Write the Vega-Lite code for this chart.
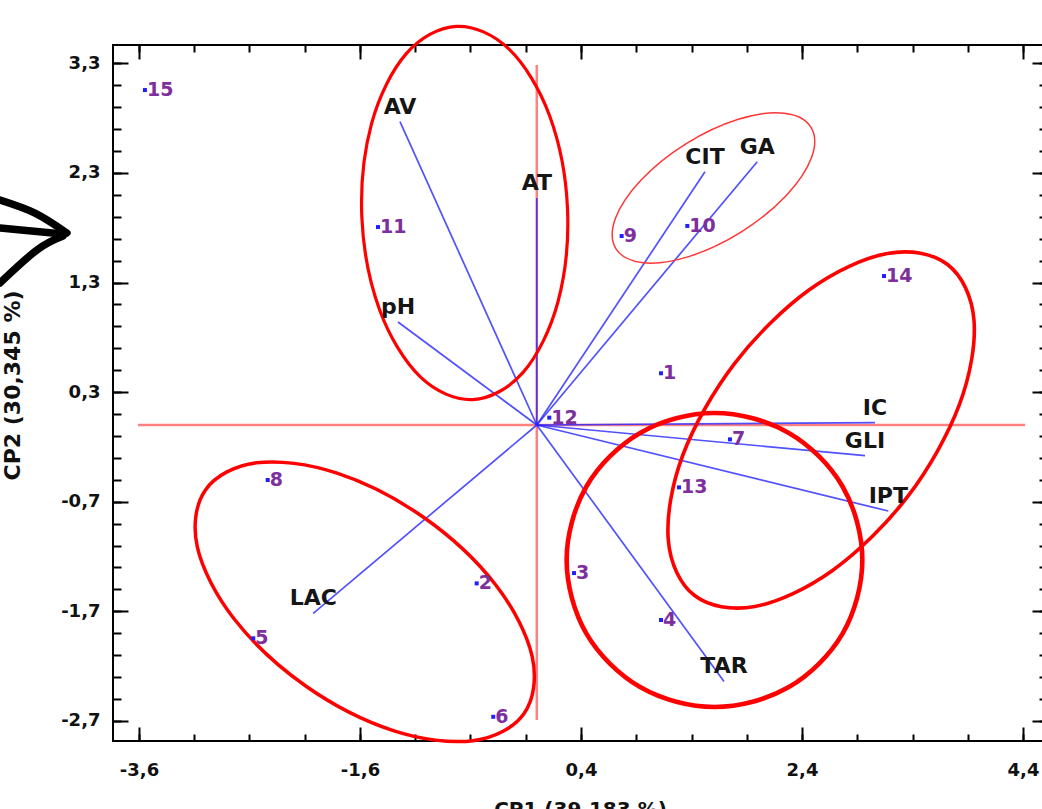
{
  "$schema": "https://vega.github.io/schema/vega-lite/v6.json",
  "width": 934,
  "height": 696,
  "autosize": {"type": "none"},
  "padding": {"left": 113, "top": 45, "right": 0, "bottom": 68},
  "background": "white",
  "config": {
    "view": {"stroke": "black", "strokeWidth": 2},
    "axis": {"grid": false, "labelFlush": false, "labelOverlap": false, "tickColor": "black", "tickWidth": 2, "title": null}
  },
  "datasets": {
    "pts": [
      {"id": "1", "x": 1.124, "y": 0.472},
      {"id": "2", "x": -0.544, "y": -1.445},
      {"id": "3", "x": 0.337, "y": -1.351},
      {"id": "4", "x": 1.124, "y": -1.779},
      {"id": "5", "x": -2.566, "y": -1.946},
      {"id": "6", "x": -0.394, "y": -2.662},
      {"id": "7", "x": 1.748, "y": -0.131},
      {"id": "8", "x": -2.435, "y": -0.502},
      {"id": "9", "x": 0.768, "y": 1.724},
      {"id": "10", "x": 1.362, "y": 1.816},
      {"id": "11", "x": -1.437, "y": 1.806},
      {"id": "12", "x": 0.113, "y": 0.067},
      {"id": "13", "x": 1.287, "y": -0.569},
      {"id": "14", "x": 3.142, "y": 1.359},
      {"id": "15", "x": -3.546, "y": 3.056}
    ],
    "vec": [
      {"v": "AV", "x0": 0, "y0": 0, "x": -1.238, "y": 2.767},
      {"v": "AT", "x0": 0, "y0": 0, "x": 0.0, "y": 2.071},
      {"v": "pH", "x0": 0, "y0": 0, "x": -1.256, "y": 0.94},
      {"v": "CIT", "x0": 0, "y0": 0, "x": 1.522, "y": 2.311},
      {"v": "GA", "x0": 0, "y0": 0, "x": 1.995, "y": 2.402},
      {"v": "IC", "x0": 0, "y0": 0, "x": 3.06, "y": 0.021},
      {"v": "GLI", "x0": 0, "y0": 0, "x": 2.97, "y": -0.28},
      {"v": "IPT", "x0": 0, "y0": 0, "x": 3.181, "y": -0.785},
      {"v": "TAR", "x0": 0, "y0": 0, "x": 1.694, "y": -2.34},
      {"v": "LAC", "x0": 0, "y0": 0, "x": -2.023, "y": -1.718}
    ],
    "cross": [
      {"x": -3.61, "xe": 4.42, "y": 0, "ye": 0},
      {"x": 0, "xe": 0, "y": 3.284, "ye": -2.692}
    ],
    "arrow": [
      {"s": "u", "i": 0, "x": -4.858, "y": 2.053},
      {"s": "u", "i": 1, "x": -4.541, "y": 1.934},
      {"s": "u", "i": 2, "x": -4.252, "y": 1.752},
      {"s": "m", "i": 0, "x": -4.858, "y": 1.797},
      {"s": "m", "i": 1, "x": -4.288, "y": 1.743},
      {"s": "l", "i": 0, "x": -4.288, "y": 1.724},
      {"s": "l", "i": 1, "x": -4.523, "y": 1.597},
      {"s": "l", "i": 2, "x": -4.858, "y": 1.296}
    ],
    "ell": [
      {"g": "A", "i": 0, "x": -0.579, "y": 0.232},
      {"g": "A", "i": 1, "x": -1.054, "y": 0.439},
      {"g": "A", "i": 2, "x": -1.421, "y": 1.047},
      {"g": "A", "i": 3, "x": -1.583, "y": 1.893},
      {"g": "A", "i": 4, "x": -1.495, "y": 2.75},
      {"g": "A", "i": 5, "x": -1.181, "y": 3.388},
      {"g": "A", "i": 6, "x": -0.726, "y": 3.637},
      {"g": "A", "i": 7, "x": -0.251, "y": 3.429},
      {"g": "A", "i": 8, "x": 0.116, "y": 2.821},
      {"g": "A", "i": 9, "x": 0.278, "y": 1.975},
      {"g": "A", "i": 10, "x": 0.19, "y": 1.118},
      {"g": "A", "i": 11, "x": -0.124, "y": 0.48},
      {"g": "B", "i": 0, "x": 2.48, "y": 2.718},
      {"g": "B", "i": 1, "x": 2.487, "y": 2.442},
      {"g": "B", "i": 2, "x": 2.256, "y": 2.092},
      {"g": "B", "i": 3, "x": 1.848, "y": 1.76},
      {"g": "B", "i": 4, "x": 1.374, "y": 1.536},
      {"g": "B", "i": 5, "x": 0.961, "y": 1.48},
      {"g": "B", "i": 6, "x": 0.717, "y": 1.607},
      {"g": "B", "i": 7, "x": 0.711, "y": 1.883},
      {"g": "B", "i": 8, "x": 0.942, "y": 2.233},
      {"g": "B", "i": 9, "x": 1.349, "y": 2.565},
      {"g": "B", "i": 10, "x": 1.824, "y": 2.789},
      {"g": "B", "i": 11, "x": 2.237, "y": 2.844},
      {"g": "C", "i": 0, "x": 3.717, "y": 1.464},
      {"g": "C", "i": 1, "x": 3.956, "y": 0.959},
      {"g": "C", "i": 2, "x": 3.824, "y": 0.185},
      {"g": "C", "i": 3, "x": 3.357, "y": -0.652},
      {"g": "C", "i": 4, "x": 2.679, "y": -1.325},
      {"g": "C", "i": 5, "x": 1.974, "y": -1.656},
      {"g": "C", "i": 6, "x": 1.428, "y": -1.556},
      {"g": "C", "i": 7, "x": 1.19, "y": -1.05},
      {"g": "C", "i": 8, "x": 1.321, "y": -0.276},
      {"g": "C", "i": 9, "x": 1.789, "y": 0.56},
      {"g": "C", "i": 10, "x": 2.466, "y": 1.234},
      {"g": "C", "i": 11, "x": 3.172, "y": 1.565},
      {"g": "D", "i": 0, "x": 2.946, "y": -1.232},
      {"g": "D", "i": 1, "x": 2.767, "y": -1.903},
      {"g": "D", "i": 2, "x": 2.277, "y": -2.393},
      {"g": "D", "i": 3, "x": 1.608, "y": -2.573},
      {"g": "D", "i": 4, "x": 0.939, "y": -2.393},
      {"g": "D", "i": 5, "x": 0.449, "y": -1.903},
      {"g": "D", "i": 6, "x": 0.27, "y": -1.232},
      {"g": "D", "i": 7, "x": 0.449, "y": -0.561},
      {"g": "D", "i": 8, "x": 0.939, "y": -0.07},
      {"g": "D", "i": 9, "x": 1.608, "y": 0.109},
      {"g": "D", "i": 10, "x": 2.277, "y": -0.07},
      {"g": "D", "i": 11, "x": 2.767, "y": -0.561},
      {"g": "E", "i": 0, "x": -0.115, "y": -2.632},
      {"g": "E", "i": 1, "x": -0.576, "y": -2.88},
      {"g": "E", "i": 2, "x": -1.299, "y": -2.788},
      {"g": "E", "i": 3, "x": -2.091, "y": -2.381},
      {"g": "E", "i": 4, "x": -2.74, "y": -1.768},
      {"g": "E", "i": 5, "x": -3.072, "y": -1.113},
      {"g": "E", "i": 6, "x": -2.998, "y": -0.592},
      {"g": "E", "i": 7, "x": -2.537, "y": -0.345},
      {"g": "E", "i": 8, "x": -1.814, "y": -0.437},
      {"g": "E", "i": 9, "x": -1.022, "y": -0.844},
      {"g": "E", "i": 10, "x": -0.373, "y": -1.457},
      {"g": "E", "i": 11, "x": -0.042, "y": -2.112}
    ]
  },
  "layer": [
    {
      "data": {"name": "cross"},
      "mark": {"type": "rule", "color": "#ff8080", "strokeWidth": 2.5},
      "encoding": {
        "x": {"field": "x", "type": "quantitative", "scale": {"domain": [-3.835, 4.617], "nice": false, "zero": false},
          "axis": {"orient": "bottom", "values": [-3.6, -1.6, 0.4, 2.4, 4.4], "ticks": false, "domain": false,
            "labelExpr": "replace(replace(format(datum.value, '.1f'), '.', ','), '\u2212', '-')",
            "labelFont": "DejaVu Sans", "labelFontWeight": "bold", "labelFontSize": 18, "labelColor": "#111111", "labelPadding": 20, "labelBaseline": "top",
            "title": "CP1 (39,183 %)", "titleFont": "DejaVu Sans", "titleFontWeight": "bold", "titleFontSize": 20, "titleColor": "#111111",
            "titleX": 467, "titleY": 58, "titleBaseline": "top", "titleAlign": "center"}},
        "x2": {"field": "xe"},
        "y": {"field": "y", "type": "quantitative", "scale": {"domain": [-2.883, 3.467], "nice": false, "zero": false},
          "axis": {"orient": "left", "values": [-2.7, -1.7, -0.7, 0.3, 1.3, 2.3, 3.3], "ticks": false, "domain": false,
            "labelExpr": "replace(replace(format(datum.value, '.1f'), '.', ','), '\u2212', '-')",
            "labelFont": "DejaVu Sans", "labelFontWeight": "bold", "labelFontSize": 18, "labelColor": "#111111", "labelPadding": 13,
            "title": "CP2 (30,345 %)", "titleFont": "DejaVu Sans", "titleFontWeight": "bold", "titleFontSize": 22, "titleColor": "#111111",
            "titleX": -101, "titleY": 340, "titleAngle": 270, "titleAlign": "center", "titleBaseline": "middle"}},
        "y2": {"field": "ye"}
      }
    },
    {
      "data": {"name": "vec"},
      "mark": {"type": "rule", "color": "#2626ff", "strokeWidth": 1.7, "opacity": 0.8},
      "encoding": {
        "x": {"field": "x0", "type": "quantitative", "scale": {"domain": [-3.835, 4.617], "nice": false, "zero": false},
          "axis": {"orient": "bottom", "values": [-3.6, -1.6, 0.4, 2.4, 4.4], "labels": false, "domain": false, "tickSize": -14}},
        "x2": {"field": "x"},
        "y": {"field": "y0", "type": "quantitative", "scale": {"domain": [-2.883, 3.467], "nice": false, "zero": false},
          "axis": {"orient": "left", "values": [-2.7, -1.7, -0.7, 0.3, 1.3, 2.3, 3.3], "labels": false, "domain": false, "tickSize": -15}},
        "y2": {"field": "y"}
      }
    },
    {
      "data": {"name": "ell"},
      "mark": {"type": "line", "interpolate": "cardinal-closed"},
      "encoding": {
        "x": {"field": "x", "type": "quantitative", "scale": {"domain": [-3.835, 4.617], "nice": false, "zero": false},
          "axis": {"orient": "bottom", "values": [-3.6, -3.1, -2.6, -2.1, -1.6, -1.1, -0.6, -0.1, 0.4, 0.9, 1.4, 1.9, 2.4, 2.9, 3.4, 3.9, 4.4], "labels": false, "domain": false, "tickSize": -7}},
        "y": {"field": "y", "type": "quantitative", "scale": {"domain": [-2.883, 3.467], "nice": false, "zero": false},
          "axis": {"orient": "left", "values": [-2.7, -2.5, -2.3, -2.1, -1.9, -1.7, -1.5, -1.3, -1.1, -0.9, -0.7, -0.5, -0.3, -0.1, 0.1, 0.3, 0.5, 0.7, 0.9, 1.1, 1.3, 1.5, 1.7, 1.9, 2.1, 2.3, 2.5, 2.7, 2.9, 3.1, 3.3], "labels": false, "domain": false, "tickSize": -8}},
        "detail": {"field": "g"},
        "order": {"field": "i", "type": "quantitative"},
        "color": {"field": "g", "type": "nominal", "scale": {"domain": ["A", "B", "C", "D", "E"], "range": ["#ff0000", "#ff3636", "#ff0000", "#ff0000", "#ff0000"]}, "legend": null},
        "strokeWidth": {"field": "g", "type": "nominal", "scale": {"type": "ordinal", "domain": ["A", "B", "C", "D", "E"], "range": [3.2, 1.5, 3.6, 4.6, 3.5]}, "legend": null}
      }
    },
    {
      "data": {"name": "arrow"},
      "mark": {"type": "line", "interpolate": "cardinal", "color": "black", "strokeWidth": 7.5, "strokeCap": "round"},
      "encoding": {
        "x": {"field": "x", "type": "quantitative", "scale": {"domain": [-3.835, 4.617], "nice": false, "zero": false}, "axis": null},
        "y": {"field": "y", "type": "quantitative", "scale": {"domain": [-2.883, 3.467], "nice": false, "zero": false}, "axis": null},
        "detail": {"field": "s"},
        "order": {"field": "i", "type": "quantitative"}
      }
    },
    {
      "data": {"name": "vec"},
      "mark": {"type": "text", "font": "DejaVu Sans", "fontWeight": "bold", "fontSize": 22, "color": "#151515", "dy": -15, "align": "center", "baseline": "middle"},
      "encoding": {
        "x": {"field": "x", "type": "quantitative", "scale": {"domain": [-3.835, 4.617], "nice": false, "zero": false}, "axis": null},
        "y": {"field": "y", "type": "quantitative", "scale": {"domain": [-2.883, 3.467], "nice": false, "zero": false}, "axis": null},
        "text": {"field": "v"}
      }
    },
    {
      "data": {"name": "pts"},
      "mark": {"type": "square", "color": "#1f1fff", "size": 16, "opacity": 1},
      "encoding": {
        "x": {"field": "x", "type": "quantitative", "scale": {"domain": [-3.835, 4.617], "nice": false, "zero": false},
          "axis": {"orient": "top", "values": [-3.6, -1.6, 0.4, 2.4, 4.4], "labels": false, "domain": false, "tickSize": -14}},
        "y": {"field": "y", "type": "quantitative", "scale": {"domain": [-2.883, 3.467], "nice": false, "zero": false},
          "axis": {"orient": "right", "values": [-2.7, -1.7, -0.7, 0.3, 1.3, 2.3, 3.3], "labels": false, "domain": false, "tickSize": -15}}
      }
    },
    {
      "data": {"name": "pts"},
      "mark": {"type": "text", "font": "DejaVu Sans", "fontWeight": "bold", "fontSize": 19, "color": "#7e2f9e", "dx": 2, "align": "left", "baseline": "middle"},
      "encoding": {
        "x": {"field": "x", "type": "quantitative", "scale": {"domain": [-3.835, 4.617], "nice": false, "zero": false},
          "axis": {"orient": "top", "values": [-3.6, -3.1, -2.6, -2.1, -1.6, -1.1, -0.6, -0.1, 0.4, 0.9, 1.4, 1.9, 2.4, 2.9, 3.4, 3.9, 4.4], "labels": false, "domain": false, "tickSize": -7}},
        "y": {"field": "y", "type": "quantitative", "scale": {"domain": [-2.883, 3.467], "nice": false, "zero": false},
          "axis": {"orient": "right", "values": [-2.7, -2.5, -2.3, -2.1, -1.9, -1.7, -1.5, -1.3, -1.1, -0.9, -0.7, -0.5, -0.3, -0.1, 0.1, 0.3, 0.5, 0.7, 0.9, 1.1, 1.3, 1.5, 1.7, 1.9, 2.1, 2.3, 2.5, 2.7, 2.9, 3.1, 3.3], "labels": false, "domain": false, "tickSize": -8}},
        "text": {"field": "id"}
      }
    }
  ],
  "resolve": {"axis": {"x": "independent", "y": "independent"}}
}
